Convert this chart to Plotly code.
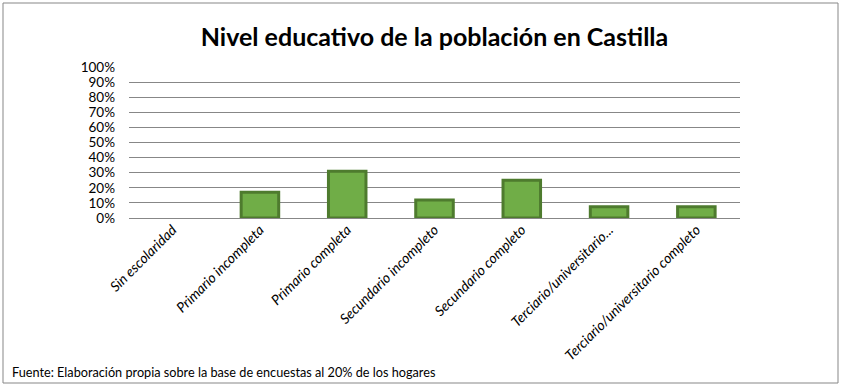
import plotly.graph_objects as go

categories = ["Sin escolaridad", "Primario incompleta", "Primario completa",
              "Secundario incompleto", "Secundario completo",
              "Terciario/universitario...", "Terciario/universitario completo"]
values = [0.0, 0.17, 0.31, 0.12, 0.25, 0.075, 0.075]
ytick_vals = [0, 0.1, 0.2, 0.3, 0.4, 0.5, 0.6, 0.7, 0.8, 0.9, 1.0]

W, H = 842, 389
L, R, T, B = 129, 740, 67, 218

line_widths = [3 if v > 0 else 0 for v in values]

fig = go.Figure(go.Bar(
    x=categories, y=values, width=0.43,
    marker=dict(color="#70AD47", line=dict(color="#4E7B2E", width=line_widths)),
))

def px_x(px):
    return (px - L) / (R - L)

def px_y(py):
    return (B - py) / (B - T)

fig.update_layout(
    width=W, height=H,
    margin=dict(l=L, r=W - R, t=T, b=H - B, autoexpand=False),
    paper_bgcolor="white", plot_bgcolor="white",
    font=dict(family="Lato", color="#000000"),
    showlegend=False,
    title=dict(text="<b>Nivel educativo de la población en Castilla</b>",
               x=0.5, xanchor="center", xref="paper", y=1 - 37 / H, yanchor="middle",
               font=dict(family="Lato", size=25, color="#000000")),
    xaxis=dict(showgrid=False, showline=False, ticks="", tickangle=-45,
               tickfont=dict(family="Lato", size=14, style="italic", color="#000000"),
               automargin=False),
    yaxis=dict(range=[0, 1], tickvals=ytick_vals, tickformat=".0%",
               showgrid=True, gridcolor="#878787", gridwidth=1,
               zeroline=True, zerolinecolor="#878787", zerolinewidth=1,
               showline=False, ticks="", ticklabelstandoff=13,
               tickfont=dict(family="Lato", size=13.5, color="#000000"),
               automargin=False),
    shapes=[dict(type="rect", xref="paper", yref="paper",
                 x0=px_x(3), x1=px_x(838), y0=px_y(383), y1=px_y(3),
                 line=dict(color="#878787", width=1), fillcolor="rgba(0,0,0,0)",
                 layer="below")],
    annotations=[dict(text="Fuente: Elaboración propia sobre la base de encuestas al 20% de los hogares",
                      xref="paper", yref="paper", x=px_x(10), y=px_y(372),
                      xanchor="left", yanchor="middle", showarrow=False,
                      font=dict(family="Lato", size=12.7, color="#000000"))],
)

fig.write_html("out.html", config={"displayModeBar": False},
               post_script="document.body.style.margin='0';document.body.style.overflow='hidden';")
